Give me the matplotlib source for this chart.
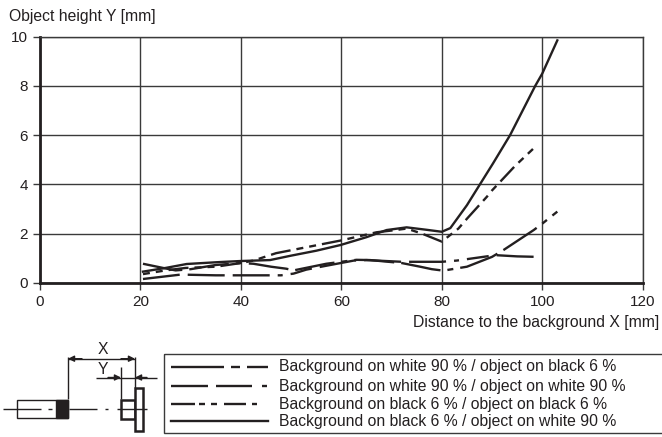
import matplotlib
matplotlib.use("Agg")
import matplotlib.pyplot as plt
from matplotlib.patches import Rectangle

plt.rcParams['font.family'] = ['Liberation Sans', 'DejaVu Sans']
plt.rcParams['lines.scale_dashes'] = False

W, H = 662, 437
INK = '#231f20'
GRID = '#3a3a3a'
FS = 11.3

# curves
x_bb_bb = [20.5, 25, 29, 35, 40, 42.5, 47, 52.5, 60, 67, 70, 73, 76, 80, 83.3, 85, 89, 90, 94.6, 99]
y_bb_bb = [0.35, 0.5, 0.6, 0.65, 0.8, 0.9, 1.2, 1.42, 1.72, 2.05, 2.12, 2.2, 2.0, 1.67, 2.2, 2.6, 3.5, 3.75, 4.75, 5.6]

x_bw_ow = [20.5, 24.5, 27, 30, 35, 40, 42.5, 46, 49, 50.5, 57, 63, 65.7, 72, 75.7, 78, 80.3, 85, 90, 92.3, 98.3, 100, 103]
y_bw_ow = [0.77, 0.6, 0.5, 0.55, 0.72, 0.8, 0.77, 0.65, 0.57, 0.5, 0.77, 0.93, 0.92, 0.8, 0.65, 0.55, 0.49, 0.65, 1.05, 1.33, 2.14, 2.4, 2.89]

x_bw_bb = [20.5, 28, 35, 40, 48, 50.5, 53, 56.5, 62.5, 65, 72, 80, 83, 90.7, 95, 99]
y_bw_bb = [0.15, 0.33, 0.3, 0.3, 0.3, 0.37, 0.53, 0.67, 0.9, 0.92, 0.85, 0.85, 0.9, 1.12, 1.07, 1.05]

x_bb_ow = [20.5, 25, 29.2, 35, 39.8, 45.8, 50, 55, 59.8, 65, 69, 73, 77, 80, 81.7, 85, 87.6, 90.2, 93.6, 98.6, 100, 103]
y_bb_ow = [0.45, 0.6, 0.76, 0.83, 0.88, 0.92, 1.1, 1.3, 1.53, 1.85, 2.14, 2.25, 2.15, 2.07, 2.22, 3.15, 4.0, 4.85, 6.0, 8.0, 8.5, 9.85]

legend_labels = [
    'Background on white 90 % / object on black 6 %',
    'Background on white 90 % / object on white 90 %',
    'Background on black 6 % / object on black 6 %',
    'Background on black 6 % / object on white 90 %',
]
x_ticks = [0, 20, 40, 60, 80, 100, 120]
y_ticks = [0, 2, 4, 6, 8, 10]


def dashes(*px):
    # dash lengths measured in pixels, matplotlib wants points
    return (0, tuple(p * 0.72 for p in px))


fig = plt.figure(figsize=(W / 100, H / 100), dpi=100)
ax = fig.add_axes([40 / W, 1 - 282.7 / H, 602.7 / W, 246 / H])
ax.set_xlim(0, 120)
ax.set_ylim(0, 10)
ax.set_xticks(x_ticks)
ax.set_yticks(y_ticks)
ax.tick_params(length=5, width=1.0, labelsize=11, pad=3.5, color=GRID, labelcolor=INK)
ax.grid(True, color=GRID, lw=1.0)
ax.set_axisbelow(True)
for s in ax.spines.values():
    s.set_color(GRID)
    s.set_linewidth(1.0)
ax.spines['bottom'].set_linewidth(2.0)
ax.spines['bottom'].set_color(INK)
ax.spines['left'].set_linewidth(2.0)
ax.spines['left'].set_color(INK)

line_kw = dict(color=INK, lw=1.7, clip_on=False)
ax.plot(x_bb_bb, y_bb_bb, ls=dashes(7, 6, 7, 6, 20, 6), **line_kw)
ax.plot(x_bw_ow, y_bw_ow, ls=dashes(40, 7, 40, 7, 6, 7), **line_kw)
ax.plot(x_bw_bb, y_bw_bb, ls=dashes(37, 8, 37, 8, 37, 8, 5, 8, 22, 8), **line_kw)
ax.plot(x_bb_ow, y_bb_ow, ls='-', **line_kw)

# everything outside the plot area, in pixel coordinates
ov = fig.add_axes([0, 0, 1, 1], facecolor='none')
ov.set_xlim(0, W)
ov.set_ylim(H, 0)
ov.axis('off')
ov.text(9, 16, 'Object height Y [mm]', fontsize=FS, va='center', color=INK)
ov.text(659, 322, 'Distance to the background X [mm]', fontsize=FS, va='center', ha='right', color=INK)

# legend box
ov.add_patch(Rectangle((164, 353.5), 510, 79, fill=False, ec=GRID, lw=1.0, clip_on=True))
legend_y = [366.5, 385.5, 403.5, 421]
legend_styles = [
    dashes(53, 7, 9, 7, 21, 100),
    dashes(37, 8, 36, 10, 5, 100),
    dashes(24, 4, 6, 6, 6, 7, 22, 6, 5, 100),
    '-',
]
for y, lab, st in zip(legend_y, legend_labels, legend_styles):
    ov.plot([171, 268], [y, y], color=INK, lw=1.7, ls=st)
    ov.text(279, y + 0.5, lab, fontsize=FS, va='center', color=INK)


# sensor sketch
def seg(xs, ys, lw=1.0):
    ov.plot(xs, ys, color=INK, lw=lw, solid_capstyle='butt')


def arrow(x0, x1, y, style='-|>'):
    ov.annotate('', xy=(x1, y), xytext=(x0, y),
                arrowprops=dict(arrowstyle=style, color=INK, lw=1.0, shrinkA=0, shrinkB=0, mutation_scale=9))


ov.add_patch(Rectangle((17, 399.5), 51, 18, fill=False, ec=INK, lw=1.0))
ov.add_patch(Rectangle((56, 399.5), 12, 18, fc=INK, ec=INK, lw=1.0))
seg([3, 41], [409, 409])
seg([48, 52], [409, 409])
seg([69, 97], [409, 409])
seg([105, 108], [409, 409])
ov.add_patch(Rectangle((121, 399.5), 14, 19, fill=False, ec=INK, lw=1.8))
ov.add_patch(Rectangle((135, 388), 8, 43, fc='white', ec=INK, lw=1.8))
seg([117, 147], [409, 409])
seg([68, 68], [357, 399])
seg([135, 135], [357, 388])
seg([121, 121], [367, 399])
seg([68, 135], [358.7, 358.7])
arrow(82, 68, 358.7)
arrow(121, 135, 358.7)
seg([96, 157], [377.5, 377.5])
arrow(108, 121, 377.5)
arrow(147, 135, 377.5)
ov.text(103, 350, 'X', fontsize=FS, ha='center', va='center', color=INK)
ov.text(103, 369, 'Y', fontsize=FS, ha='center', va='center', color=INK)

fig.savefig('out.png', dpi=100)
